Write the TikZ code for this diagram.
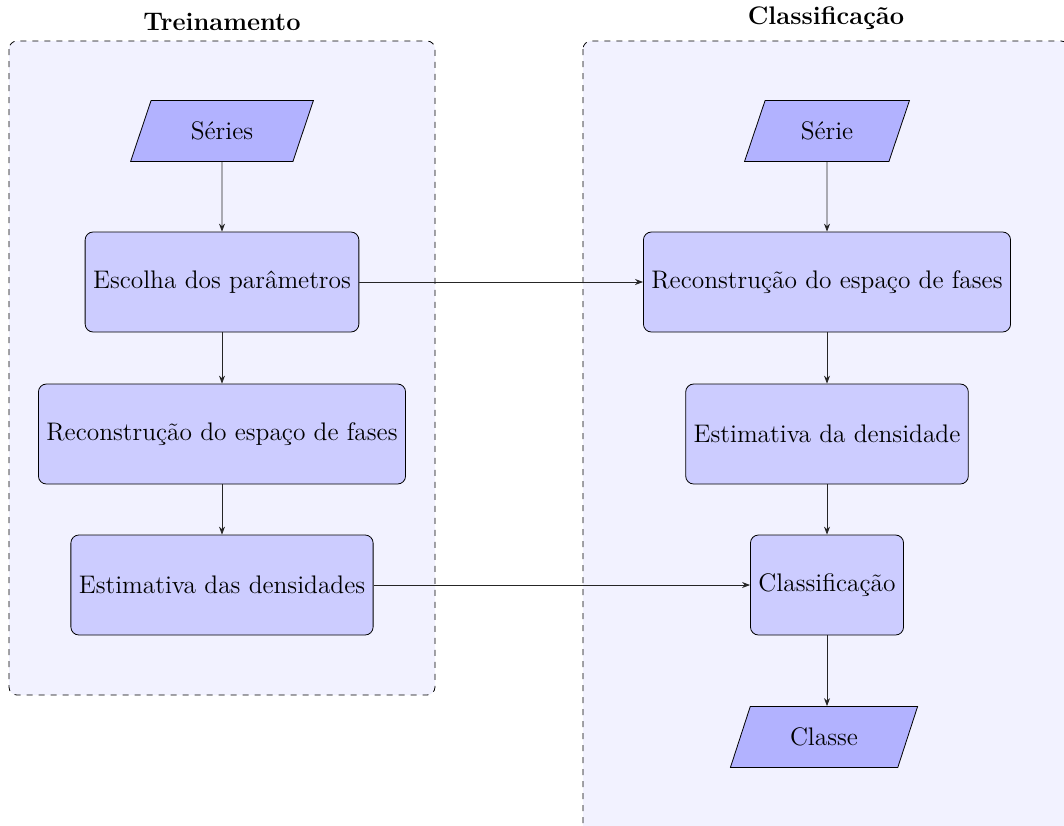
\documentclass[tikz,border=0pt]{standalone}
\usetikzlibrary{shapes.geometric,arrows.meta}
\begin{document}
\begin{tikzpicture}[x=0.5pt,y=-0.5pt,
  font=\fontsize{12.7}{15}\selectfont,
  group/.style={draw=black,dashed,fill=blue!5,rounded corners=4pt},
  procbox/.style={draw=black,fill=blue!20,rounded corners=4pt,minimum height=50pt,inner xsep=4pt},
  iobox/.style={draw=black,fill=blue!30,trapezium,trapezium left angle=71,trapezium right angle=109,trapezium stretches=true,minimum height=30.5pt},
  flow/.style={draw=black!85,-{Stealth[length=4pt,width=3pt]}},
  title/.style={font=\fontsize{12.7}{15}\selectfont\bfseries}]
\clip (0,0) rectangle (1064,825);
\useasboundingbox (0,0) rectangle (1064,825);
\draw[group] (9,41) rectangle (435,695);
\draw[group] (583,41) rectangle (1069,880);
\node[title] (t1) at (222,22) {Treinamento};
\node[title] (t2) at (826,18) {Classificação};
\node[iobox,minimum width=91.5pt] (series) at (222,131) {Séries};
\node[procbox] (escolha) at (222,282) {Escolha dos parâmetros};
\node[procbox] (recL) at (222,434) {Reconstrução do espaço de fases};
\node[procbox] (estL) at (222,585) {Estimativa das densidades};
\node[iobox,minimum width=82.5pt] (serie) at (827,131) {Série};
\node[procbox] (recR) at (827,282) {Reconstrução do espaço de fases};
\node[procbox] (estR) at (827,434) {Estimativa da densidade};
\node[procbox] (classif) at (827,585) {Classificação};
\node[iobox,minimum width=94pt] (classe) at (824,737) {Classe};
\draw[flow] (series) -- (escolha);
\draw[flow] (escolha) -- (recL);
\draw[flow] (recL) -- (estL);
\draw[flow] (serie) -- (recR);
\draw[flow] (recR) -- (estR);
\draw[flow] (estR) -- (classif);
\draw[flow] (classif.south) -- (classif.south |- classe.north);
\draw[flow] (escolha) -- (recR);
\draw[flow] (estL) -- (classif);
\end{tikzpicture}
\end{document}
